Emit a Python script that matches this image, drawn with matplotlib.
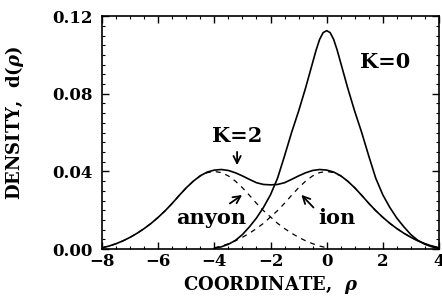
import matplotlib
matplotlib.use("Agg")
import matplotlib.pyplot as plt
import numpy as np
from matplotlib.ticker import MultipleLocator

plt.rcParams['font.family'] = ['DejaVu Serif']
plt.rcParams['font.weight'] = 'bold'
plt.rcParams['axes.labelweight'] = 'bold'
plt.rcParams['mathtext.fontset'] = 'dejavuserif'

# coordinate grid, -8 .. 4 in steps of 0.25
rho = np.arange(-8, 4.001, 0.25)

# K=0 density (single peak at 0), finer grid near the top
rho0 = [-4, -3.75, -3.5, -3.25, -3, -2.75, -2.5, -2.25, -2, -1.75, -1.5,
        -1.25, -1, -0.75, -0.625, -0.5, -0.375, -0.25, -0.125, 0,
        0.125, 0.25, 0.375, 0.5, 0.625, 0.75, 1, 1.25, 1.5, 1.75, 2,
        2.25, 2.5, 2.75, 3, 3.25, 3.5, 3.75, 4]
k0 = [0.0004, 0.0012, 0.0025, 0.0045, 0.0075, 0.0115, 0.016, 0.0215,
      0.028, 0.0365, 0.048, 0.060, 0.071, 0.083, 0.0895, 0.096, 0.1025,
      0.108, 0.1115, 0.1125,
      0.1115, 0.108, 0.1025, 0.096, 0.0895, 0.083, 0.071, 0.060, 0.048,
      0.0365, 0.028, 0.0215, 0.016, 0.0115, 0.0075, 0.0045, 0.0025,
      0.0012, 0.0004]

# K=2 density (two humps)
k2 = [0.0007, 0.0016, 0.0028, 0.0043, 0.0061, 0.0082, 0.0106, 0.0133,
      0.0164, 0.0198, 0.0236, 0.0277, 0.0316, 0.0350, 0.0378, 0.0397,
      0.0407, 0.0410, 0.0405, 0.0393, 0.0377, 0.0359, 0.0342, 0.0333,
      0.0331, 0.0333, 0.0342, 0.0359, 0.0377, 0.0393, 0.0405, 0.0410,
      0.0407,
      0.0397, 0.0378, 0.0350, 0.0316, 0.0277, 0.0236, 0.0198, 0.0164,
      0.0133, 0.0106, 0.0082, 0.0061, 0.0043, 0.0028, 0.0016, 0.0007]

# dashed parts: anyon (centre -4), drawn for rho <= 0
anyon = [0.0007, 0.0016, 0.0028, 0.0043, 0.0061, 0.0082, 0.0106, 0.0133,
         0.0164, 0.0198, 0.0236, 0.0277, 0.0316, 0.0350, 0.0377, 0.0394,
         0.0400, 0.0394, 0.0377, 0.0350, 0.0316, 0.0277, 0.0236, 0.0198,
         0.0166, 0.0133, 0.0106, 0.0082, 0.0061, 0.0043, 0.0028, 0.0016,
         0.0007]
# ion (centre 0), drawn for rho >= -4
ion = [0.0007, 0.0016, 0.0028, 0.0043, 0.0061, 0.0082, 0.0106, 0.0133,
       0.0166, 0.0198, 0.0236, 0.0277, 0.0316, 0.0350, 0.0377, 0.0394,
       0.0400,
       0.0394, 0.0377, 0.0350, 0.0316, 0.0277, 0.0236, 0.0198, 0.0164,
       0.0133, 0.0106, 0.0082, 0.0061, 0.0043, 0.0028, 0.0016, 0.0007]

fig = plt.figure(figsize=(4.42, 2.98), dpi=100)
ax = fig.add_axes([0.231, 0.164, 0.762, 0.782])

ax.plot(rho0, k0, color='black', lw=1.2)
ax.plot(rho, k2, color='black', lw=1.2)
ax.plot(rho[:33], anyon, color='black', lw=0.9, ls=(0, (4, 4)))
ax.plot(rho[16:], ion, color='black', lw=0.9, ls=(0, (4, 4)))

ax.set_xlim(-8, 4)
ax.set_ylim(0, 0.12)
ax.set_xticks([-8, -6, -4, -2, 0, 2, 4])
ax.set_yticks([0, 0.04, 0.08, 0.12])
ax.set_yticklabels(['0.00', '0.04', '0.08', '0.12'])
ax.xaxis.set_minor_locator(MultipleLocator(0.5))
ax.yaxis.set_minor_locator(MultipleLocator(0.005))
ax.tick_params(which='both', direction='in', top=True, right=True, labelsize=12)
ax.tick_params(which='major', length=5, width=1)
ax.tick_params(which='minor', length=2.5, width=0.8)
ax.tick_params(axis='x', pad=3)
ax.tick_params(axis='y', pad=7)
for s in ax.spines.values():
    s.set_linewidth(1.2)

ax.set_xlabel(r'COORDINATE,  $\rho$', fontsize=13, labelpad=3)
ax.set_ylabel(r'DENSITY,  d($\rho$)', fontsize=13)
ax.yaxis.set_label_coords(-0.225, 0.54)

ax.text(2.1, 0.0965, 'K=0', fontsize=15, ha='center', va='center')
ax.text(-3.2, 0.0584, 'K=2', fontsize=15, ha='center', va='center')
ax.annotate('', xy=(-3.19, 0.0418), xytext=(-3.19, 0.0515),
            arrowprops=dict(arrowstyle='->', color='black', lw=1.3,
                            mutation_scale=13))
ax.text(-4.1, 0.0129, 'anyon', fontsize=15, ha='center', va='baseline')
ax.annotate('', xy=(-2.93, 0.0287), xytext=(-3.53, 0.0227),
            arrowprops=dict(arrowstyle='->', color='black', lw=1.3,
                            mutation_scale=13))
ax.text(0.38, 0.0129, 'ion', fontsize=15, ha='center', va='baseline')
ax.annotate('', xy=(-0.97, 0.029), xytext=(-0.40, 0.0204),
            arrowprops=dict(arrowstyle='->', color='black', lw=1.3,
                            mutation_scale=13))

fig.savefig('out.png', dpi=100)
